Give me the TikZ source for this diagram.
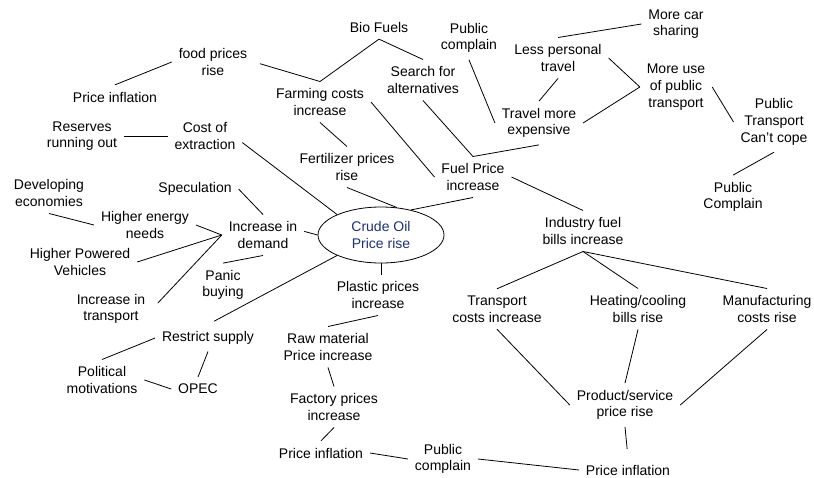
\documentclass[tikz,border=0pt]{standalone}
\usepackage{fontspec}
\setmainfont{Liberation Sans}
\usetikzlibrary{shapes.geometric}
\definecolor{crudeblue}{RGB}{30,48,122}
\begin{document}
\begin{tikzpicture}[x=1pt,y=-1pt,
  lbl/.style={align=center,inner sep=7pt,outer sep=0pt,font=\fontsize{14}{16.7}\selectfont},
  oval/.style={ellipse,draw,line width=0.8pt,minimum width=126pt,minimum height=56pt,inner sep=0pt,align=center,text=crudeblue,font=\fontsize{14}{16.7}\selectfont},
  link/.style={draw,line width=0.8pt}]
\useasboundingbox (0,0) rectangle (814,477);
\node[lbl] (bio) at (379,27) {Bio Fuels};
\node[lbl] (food) at (213,62) {food prices\\rise};
\node[lbl] (pi1) at (115,97) {Price inflation};
\node[lbl] (farm) at (320,102) {Farming costs\\increase};
\node[lbl] (search) at (423,80) {Search for\\alternatives};
\node[lbl] (reserves) at (82,136) {Reserves\\running out};
\node[lbl] (cost) at (205,136) {Cost of\\extraction};
\node[lbl] (fert) at (347,167) {Fertilizer prices\\rise};
\node[lbl] (dev) at (49,193) {Developing\\economies};
\node[lbl] (spec) at (195,189) {Speculation};
\node[lbl] (energy) at (145,225) {Higher energy\\needs};
\node[lbl] (demand) at (263,235) {Increase in\\demand};
\node[oval] (crude) at (381,235) {Crude Oil\\Price rise};
\node[lbl] (pub1) at (469,38) {Public\\complain};
\node[lbl] (car) at (676,24) {More car\\sharing};
\node[lbl] (less) at (558,58) {Less personal\\travel};
\node[lbl] (moreuse) at (676,87) {More use\\of public\\transport};
\node[lbl] (travel) at (539,123) {Travel more\\expensive};
\node[lbl] (cope) at (774,122) {Public\\Transport\\Can’t cope};
\node[lbl] (fuel) at (473,177) {Fuel Price\\increase};
\node[lbl] (pub2) at (733,197) {Public\\Complain};
\node[lbl] (industry) at (583,231) {Industry fuel\\bills increase};
\node[lbl] (hpv) at (80,262) {Higher Powered\\Vehicles};
\node[lbl] (panic) at (223,285) {Panic\\buying};
\node[lbl] (inctrans) at (111,309) {Increase in\\transport};
\node[lbl] (plastic) at (378,295) {Plastic prices\\increase};
\node[lbl] (restrict) at (208,338) {Restrict supply};
\node[lbl] (raw) at (328,347) {Raw material\\Price increase};
\node[lbl] (political) at (102,380) {Political\\motivations};
\node[lbl] (opec) at (198,389) {OPEC};
\node[lbl] (factory) at (334,407) {Factory prices\\increase};
\node[lbl] (pi2) at (321,453) {Price inflation};
\node[lbl] (transport) at (497,309) {Transport\\costs increase};
\node[lbl] (heating) at (638,309) {Heating/cooling\\bills rise};
\node[lbl] (manuf) at (767,309) {Manufacturing\\costs rise};
\node[lbl] (product) at (625,405) {Product/service\\price rise};
\node[lbl] (pub3) at (443,459) {Public\\complain};
\node[lbl] (pi3) at (628,470) {Price inflation};

\draw[link] (pi1.north) -- (food.west);
\draw[link,shorten <=6pt] (food.east) -- (farm.north);
\draw[link] (farm.north) -- (bio.south);
\draw[link] (bio.south) -- (search.north);
\draw[link] (reserves.east) -- (cost.west);
\draw[link] (cost.-10) -- (crude.155);
\draw[link] (farm.south) -- (fert.north);
\draw[link] (fert.south) -- (crude.60);
\draw[link] (farm.east) -- (fuel.west);
\draw[link] (search.south) -- (fuel.north);
\draw[link] (fuel.north) -- (travel.south);
\draw[link] (fuel.south) -- (crude.40);
\draw[link] (fuel.east) -- (industry.north);
\draw[link] (pub1.south) -- (travel.west);
\draw[link] (less.south) -- (travel.north);
\draw[link] (less.north) -- (car.west);
\draw[link] (less.east) -- (moreuse.west);
\draw[link] (travel.east) -- (moreuse.west);
\draw[link] (moreuse.east) -- (cope.west);
\draw[link] (cope.south) -- (pub2.north);
\draw[link] (spec.east) -- (demand.north);
\draw[link] (dev.south) -- (energy.west);
\draw[link] (energy.east) -- (demand.west);
\draw[link] (hpv.east) -- (demand.west);
\draw[link,shorten <=8pt] (inctrans.east) -- (demand.west);
\draw[link] (demand.5) -- (crude.west);
\draw[link] (panic.north) -- (demand.south);
\draw[link,shorten <=7pt] (restrict.north) -- (crude.205);
\draw[link] (crude.south) -- (crude.south |- plastic.north);
\draw[link] (plastic.south) -- (raw.north);
\draw[link] (restrict.west) -- (political.north);
\draw[link] (restrict.south) -- (opec.north);
\draw[link] (political.east) -- (opec.west);
\draw[link] (raw.south) -- (factory.north);
\draw[link] (factory.south) -- (pi2.north);
\draw[link] (pi2.east) -- (pub3.west);
\draw[link] (pub3.east) -- (pi3.west);
\draw[link] (industry.south) -- (transport.north);
\draw[link] (industry.south) -- (heating.north);
\draw[link] (industry.south) -- (manuf.north);
\draw[link] (transport.south) -- (product.west);
\draw[link] (heating.south) -- (product.north);
\draw[link] (manuf.south) -- (product.east);
\draw[link,shorten >=9pt] (product.south) -- (pi3.north);
\end{tikzpicture}
\end{document}
